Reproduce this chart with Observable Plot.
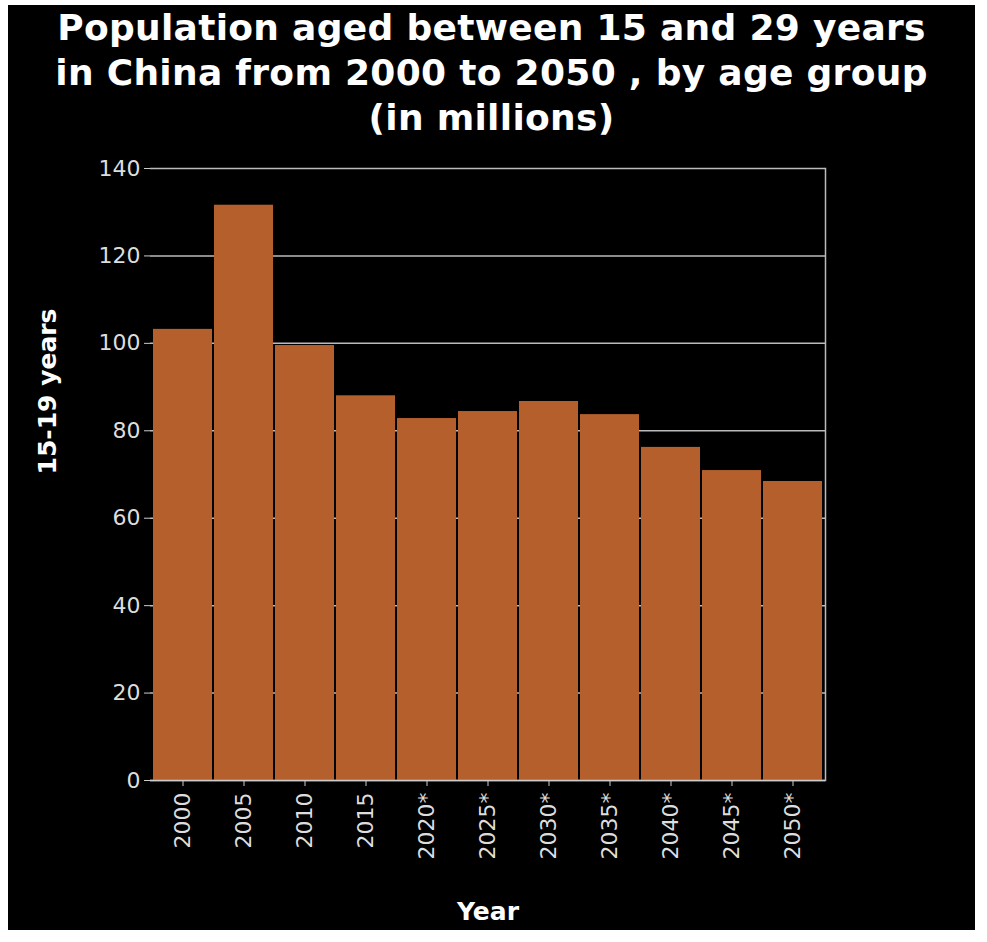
<!DOCTYPE html>
<html>
<head>
<meta charset="utf-8">
<script src="https://cdn.jsdelivr.net/npm/d3@7"></script>
<script src="https://cdn.jsdelivr.net/npm/@observablehq/plot@0.6"></script>
<style>
  body { margin: 0; background: #fff; font-family: "DejaVu Sans", sans-serif; }
  #wrap { position: absolute; left: 8px; top: 5px; width: 967px; height: 925px; background: #000; overflow: hidden; }
  #title { color: #fff; font-weight: bold; font-size: 36px; line-height: 45px; text-align: center; padding-top: 0px; height: 136px; white-space: nowrap; letter-spacing: 0.3px; }
</style>
</head>
<body>
<div id="wrap">
  <div id="title">Population aged between 15 and 29 years<br>in China from 2000 to 2050 , by age group<br>(in millions)</div>
  <div id="chart"></div>
</div>
<script>
const years = ["2000", "2005", "2010", "2015", "2020*", "2025*", "2030*", "2035*", "2040*", "2045*", "2050*"];
const values = [103.2, 131.6, 99.5, 88, 82.8, 84.4, 86.7, 83.7, 76.2, 70.9, 68.4];
const yTicks = [0, 20, 40, 60, 80, 100, 120, 140];

const data = years.map((y, i) => ({year: y, value: values[i]}));

const chart = Plot.plot({
  width: 967,
  height: 789,
  marginTop: 27,
  marginLeft: 142,
  marginRight: 150,
  marginBottom: 150,
  style: {background: "#000", color: "#fff", fontSize: "22px", fontFamily: "DejaVu Sans, sans-serif"},
  x: {domain: years, label: null, paddingInner: 0.03, paddingOuter: 0.02, tickRotate: -90, tickSize: 6},
  y: {domain: [0, 140], ticks: yTicks, label: null, tickSize: 6},
  marks: [
    Plot.gridY(yTicks, {stroke: "#bbb", strokeOpacity: 1, strokeWidth: 1.5}),
    Plot.frame({anchor: "right", stroke: "#bbb", strokeWidth: 1.5}),
    Plot.barY(data, {x: "year", y: "value", fill: "#b5602c"}),
    Plot.ruleY([0], {stroke: "#ccc", strokeWidth: 1.5}),
    Plot.axisY(yTicks, {stroke: "#ccc", fill: "#ddd", tickPadding: 4, fontSize: 22}),
    Plot.axisX({stroke: "#ccc", fill: "#ddd", tickRotate: -90, tickPadding: 6, fontSize: 22}),
    Plot.text(["15-19 years"], {frameAnchor: "left", dx: -103, rotate: -90, fill: "#fff", fontWeight: "bold", fontSize: 25}),
    Plot.text(["Year"], {frameAnchor: "bottom", dy: 139, fill: "#fff", fontWeight: "bold", fontSize: 25})
  ]
});
document.getElementById("chart").append(chart);
</script>
</body>
</html>
